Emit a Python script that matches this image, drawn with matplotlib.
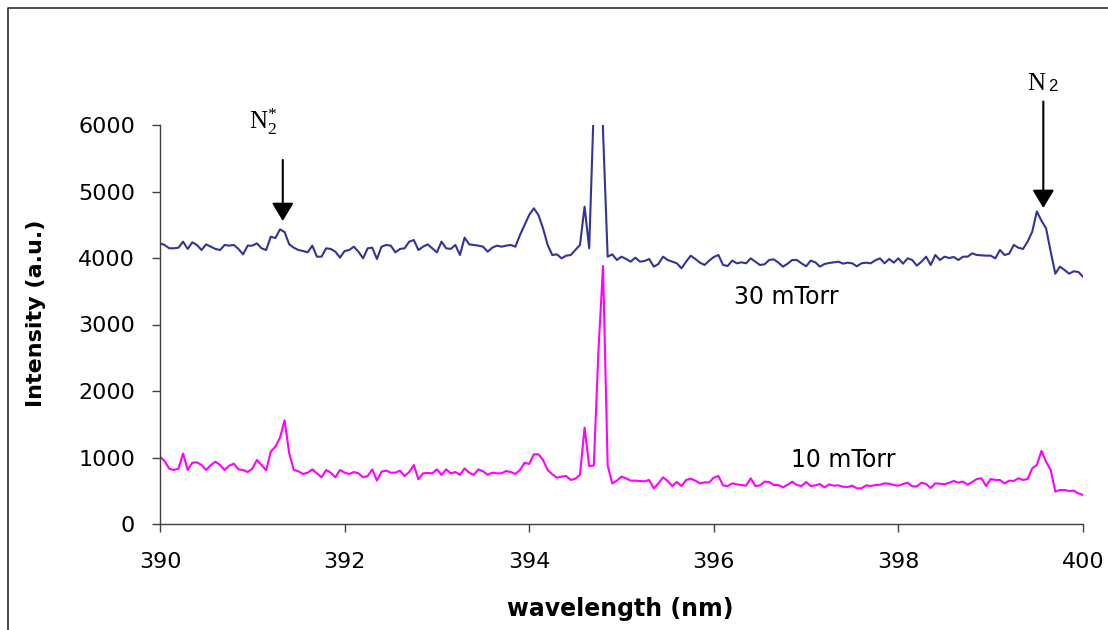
import numpy as np
import matplotlib
matplotlib.use("Agg")
import matplotlib.pyplot as plt
from matplotlib.lines import Line2D

# Emission spectra, 390-400 nm, sampled every 0.05 nm
wavelength = np.linspace(390.0, 400.0, 201)

intensity_30mtorr = [
    4220, 4196, 4146, 4146, 4155, 4246, 4136, 4236, 4196, 4120,
    4205, 4170, 4136, 4120, 4196, 4186, 4196, 4136, 4055, 4186,
    4186, 4220, 4146, 4120, 4320, 4300, 4430, 4390, 4205, 4155,
    4120, 4105, 4085, 4186, 4020, 4020, 4146, 4136, 4095, 4005,
    4105, 4120, 4170, 4095, 3995, 4146, 4155, 3985, 4170, 4196,
    4186, 4085, 4136, 4146, 4246, 4270, 4120, 4170, 4205, 4146,
    4085, 4246, 4146, 4136, 4196, 4045, 4306, 4205, 4196, 4186,
    4170, 4095, 4155, 4186, 4170, 4186, 4196, 4170, 4346, 4497,
    4647, 4747, 4647, 4446, 4196, 4045, 4055, 3995, 4035, 4045,
    4120, 4196, 4772, 4146, 6300, 9000, 5900, 4020, 4055, 3970,
    4020, 3985, 3945, 4005, 3945, 3955, 3985, 3870, 3910, 4020,
    3970, 3945, 3920, 3845, 3945, 4035, 3985, 3930, 3895, 3960,
    4015, 4045, 3895, 3880, 3960, 3920, 3935, 3920, 3995, 3945,
    3895, 3905, 3970, 3980, 3930, 3870, 3915, 3970, 3970, 3920,
    3875, 3960, 3935, 3870, 3910, 3925, 3935, 3945, 3915, 3930,
    3920, 3875, 3920, 3930, 3920, 3965, 3995, 3920, 3985, 3930,
    3995, 3915, 3995, 3970, 3885, 3945, 4020, 3895, 4045, 3970,
    4020, 4000, 4015, 3970, 4020, 4020, 4070, 4045, 4040, 4035,
    4035, 3995, 4120, 4045, 4065, 4196, 4155, 4136, 4246, 4396,
    4700, 4560, 4446, 4095, 3764, 3870, 3820, 3764, 3800, 3790,
    3719,
]

intensity_10mtorr = [
    1012, 947, 832, 812, 832, 1060, 812, 922, 927, 887,
    812, 887, 937, 887, 812, 877, 907, 822, 812, 782,
    832, 962, 887, 807, 1088, 1163, 1298, 1560, 1063, 812,
    792, 752, 772, 822, 762, 702, 812, 772, 702, 812,
    772, 752, 782, 762, 702, 722, 822, 652, 787, 802,
    772, 772, 802, 722, 782, 887, 672, 762, 767, 762,
    822, 737, 822, 762, 782, 737, 837, 772, 737, 822,
    792, 742, 772, 762, 762, 797, 782, 752, 812, 922,
    902, 1048, 1048, 962, 812, 747, 697, 712, 722, 662,
    682, 737, 1450, 870, 880, 2600, 3880, 880, 610, 652,
    712, 687, 652, 652, 647, 642, 662, 536, 611, 702,
    647, 571, 632, 571, 662, 682, 652, 611, 626, 626,
    697, 722, 581, 571, 611, 596, 586, 576, 687, 571,
    581, 637, 632, 586, 586, 551, 591, 637, 586, 571,
    632, 571, 581, 601, 551, 596, 576, 581, 561, 556,
    576, 536, 536, 581, 571, 586, 591, 611, 606, 586,
    576, 601, 621, 566, 566, 621, 601, 541, 611, 606,
    596, 621, 647, 621, 637, 591, 632, 677, 687, 571,
    677, 662, 662, 611, 652, 647, 687, 662, 677, 837,
    887, 1100, 937, 812, 486, 511, 511, 496, 501, 461,
    436,
]

x_ticks = [390, 392, 394, 396, 398, 400]
y_ticks = [0, 1000, 2000, 3000, 4000, 5000, 6000]

W, H = 1108, 630
plt.rcParams["font.family"] = ["DejaVu Sans"]
plt.rcParams["mathtext.fontset"] = "custom"
plt.rcParams["mathtext.rm"] = "Liberation Serif"
plt.rcParams["mathtext.it"] = "Liberation Serif:italic"

fig = plt.figure(figsize=(W / 100, H / 100), dpi=100)
fig.patch.set_facecolor("white")
ax = fig.add_axes([160 / W, 1 - 524 / H, 923 / W, 399 / H])

ax.plot(wavelength, intensity_30mtorr, color="#333399", lw=1.5, solid_joinstyle="round")
ax.plot(wavelength, intensity_10mtorr, color="#FF00FF", lw=1.5, solid_joinstyle="round")

ax.set_xlim(390, 400)
ax.set_ylim(0, 6000)
ax.set_xticks(x_ticks)
ax.set_yticks(y_ticks)
ax.set_xticklabels([str(t) for t in x_ticks])
ax.set_yticklabels([str(t) for t in y_ticks])

for side in ("top", "right"):
    ax.spines[side].set_visible(False)
for side in ("left", "bottom"):
    ax.spines[side].set_color("#404040")
    ax.spines[side].set_linewidth(1.0)
ax.tick_params(axis="both", direction="out", length=6, width=1.0, color="#404040",
               labelsize=16, labelcolor="black")
ax.tick_params(axis="y", pad=12)
ax.tick_params(axis="x", pad=14)

fig.text(620 / W, 1 - 609 / H, "wavelength (nm)", ha="center", va="center",
         fontsize=17, fontweight="bold")
fig.text(36 / W, 1 - 313 / H, "Intensity (a.u.)", ha="center", va="center",
         rotation=90, fontsize=16, fontweight="bold")

# series labels
ax.text(396.79, 3414, "30 mTorr", ha="center", va="center", fontsize=17)
ax.text(397.40, 962, "10 mTorr", ha="center", va="center", fontsize=17)

# band markers
ax.text(391.12, 6045, r"$\mathrm{N}_{\mathrm{2}}^{*}$", ha="center", va="center",
        fontsize=18, clip_on=False)
ax.text(399.49, 6624, "N", ha="center", va="center", fontsize=18,
        family="Liberation Serif", clip_on=False)
ax.text(399.675, 6586, "2", ha="center", va="center", fontsize=12,
        family="Liberation Sans", clip_on=False)

arrow_style = dict(arrowstyle="-|>,head_length=0.55,head_width=0.33", color="black",
                   lw=1.5, shrinkA=0, shrinkB=0, mutation_scale=20)
ax.annotate("", xy=(391.33, 4556), xytext=(391.33, 5474), arrowprops=arrow_style,
            annotation_clip=False)
ax.annotate("", xy=(399.57, 4752), xytext=(399.57, 6353), arrowprops=arrow_style,
            annotation_clip=False)

# outer frame (left and top edges)
fx, fy = 8 / W, 1 - 8 / H
fig.add_artist(Line2D([fx, fx, 1.05], [-0.05, fy, fy], transform=fig.transFigure,
                      color="#303030", lw=1.2))

fig.savefig("out.png", dpi=100)
